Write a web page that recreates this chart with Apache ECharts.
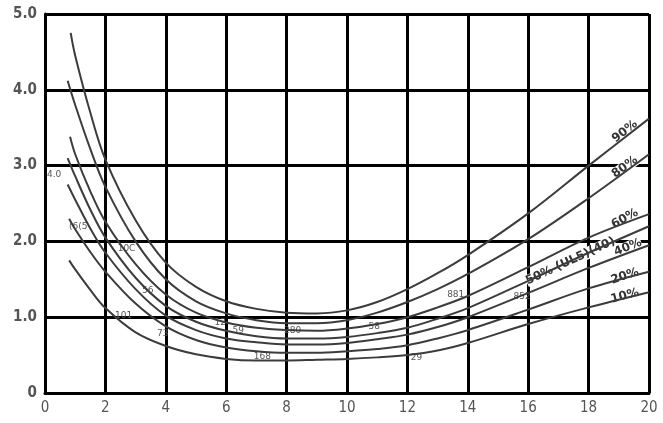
<!DOCTYPE html>
<html lang="en">
<head>
	<meta charset="UTF-8">
	<title>Curves</title>
	<script src="https://cdn.jsdelivr.net/npm/echarts@6/dist/echarts.min.js"></script>
	<style>
		html,body{margin:0;padding:0;background:#fff;}
		#box{width:663px;height:423px;}
	</style>
</head>
<body>
<div id="box"></div>
<script>
	// x ticks / y ticks
	let xTicks=[0,2,4,6,8,10,12,14,16,18,20];
	let yTicks=[0,1,2,3,4,5];

	// curves, [x, y]
	let c90=[[0.85,4.75],[1,4.45],[1.5,3.7],[2,3.08],[3,2.28],[4,1.72],[5,1.4],[6,1.21],[7,1.11],[8,1.06],[9,1.05],[10,1.09],[11,1.2],[12,1.37],[13,1.58],[14,1.82],[16,2.37],[18,3.0],[20,3.62]];
	let c80=[[0.75,4.12],[1,3.8],[1.5,3.22],[2,2.72],[3,2.0],[4,1.5],[5,1.21],[6,1.05],[7,0.96],[8,0.92],[9,0.92],[10,0.96],[11,1.06],[12,1.2],[13,1.37],[14,1.57],[16,2.03],[18,2.57],[20,3.15]];
	let c60=[[0.83,3.38],[1,3.15],[1.5,2.66],[2,2.26],[3,1.7],[4,1.3],[5,1.06],[6,0.93],[7,0.86],[8,0.83],[9,0.82],[10,0.85],[11,0.91],[12,1.0],[13,1.13],[14,1.28],[16,1.66],[18,2.05],[20,2.36]];
	let c50=[[0.75,3.1],[1,2.86],[1.5,2.42],[2,2.05],[3,1.52],[4,1.15],[5,0.94],[6,0.82],[7,0.75],[8,0.72],[9,0.72],[10,0.74],[11,0.79],[12,0.86],[13,0.98],[14,1.12],[16,1.48],[18,1.85],[20,2.2]];
	let c40=[[0.75,2.75],[1,2.55],[1.5,2.17],[2,1.85],[3,1.37],[4,1.02],[5,0.83],[6,0.72],[7,0.67],[8,0.64],[9,0.64],[10,0.66],[11,0.71],[12,0.77],[13,0.87],[14,1.0],[16,1.32],[18,1.65],[20,1.95]];
	let c20=[[0.8,2.3],[1,2.16],[1.5,1.86],[2,1.6],[3,1.18],[4,0.88],[5,0.7],[6,0.6],[7,0.55],[8,0.53],[9,0.53],[10,0.55],[11,0.58],[12,0.63],[13,0.72],[14,0.83],[16,1.1],[18,1.38],[20,1.6]];
	let c10=[[0.8,1.75],[1,1.63],[1.5,1.36],[2,1.12],[3,0.8],[4,0.62],[5,0.51],[6,0.45],[7,0.43],[8,0.43],[9,0.44],[10,0.45],[11,0.47],[12,0.5],[13,0.56],[14,0.66],[16,0.91],[18,1.13],[20,1.33]];

	let curves=[c90,c80,c60,c50,c40,c20,c10];

	// labels along the right ends: [text, x, y, angle]
	let endLabels=[
		['90%',19.2,3.45,38],
		['80%',19.2,2.98,36],
		['60%',19.2,2.3,28],
		['50% (UL5)(40)',17.4,1.74,25],
		['40%',19.3,1.92,22],
		['20%',19.2,1.54,18],
		['10%',19.2,1.28,15]
	];
	// little numbers along the curves: [text, x, y]
	let smallLabels=[
		['4.0',0.3,2.88],['(6(5',1.1,2.2],['10C',2.7,1.9],['56',3.4,1.35],['101',2.6,1.02],
		['73',3.9,0.78],['12',5.8,0.93],['59',6.4,0.82],['280',8.2,0.82],['168',7.2,0.48],
		['58',10.9,0.88],['29',12.3,0.47],['881',13.6,1.3],['852',15.8,1.27]
	];

	let charts=echarts.init(document.getElementById('box'));
	let options={
		animation:false,
		grid:{left:45,right:14,top:14,bottom:30},
		xAxis:{
			type:'value',min:0,max:20,interval:2,
			axisLine:{show:true,onZero:false,lineStyle:{color:'#000',width:3}},
			axisTick:{show:false},
			splitLine:{show:true,lineStyle:{color:'#000',width:3}},
			axisLabel:{color:'#555',fontSize:15,fontFamily:'DejaVu Sans Condensed',margin:8}
		},
		yAxis:{
			type:'value',min:0,max:5,interval:1,
			axisLine:{show:true,onZero:false,lineStyle:{color:'#000',width:3}},
			axisTick:{show:false},
			splitLine:{show:true,lineStyle:{color:'#000',width:3}},
			axisLabel:{color:'#555',fontSize:15,fontWeight:'bold',fontFamily:'DejaVu Sans Condensed',margin:8,
				formatter:v=>v===0?'0':v.toFixed(1)}
		},
		series:curves.map(c=>({
			type:'line',
			data:c,
			smooth:0.35,
			showSymbol:false,
			lineStyle:{color:'#3c3c3c',width:2}
		}))
	};
	charts.setOption(options);

	// place text labels from data coordinates
	let g=[];
	endLabels.forEach(l=>{
		let p=charts.convertToPixel({gridIndex:0},[l[1],l[2]]);
		g.push({type:'text',x:p[0],y:p[1],rotation:l[3]*Math.PI/180,
			style:{text:l[0],fill:'#333',font:'bold 12px "DejaVu Sans"',align:'center',verticalAlign:'middle',
				backgroundColor:'#fff'}});
	});
	smallLabels.forEach(l=>{
		let p=charts.convertToPixel({gridIndex:0},[l[1],l[2]]);
		g.push({type:'text',x:p[0],y:p[1],
			style:{text:l[0],fill:'#555',font:'9px "DejaVu Sans"',align:'center',verticalAlign:'middle'}});
	});
	charts.setOption({graphic:g});
</script>
</body>
</html>
